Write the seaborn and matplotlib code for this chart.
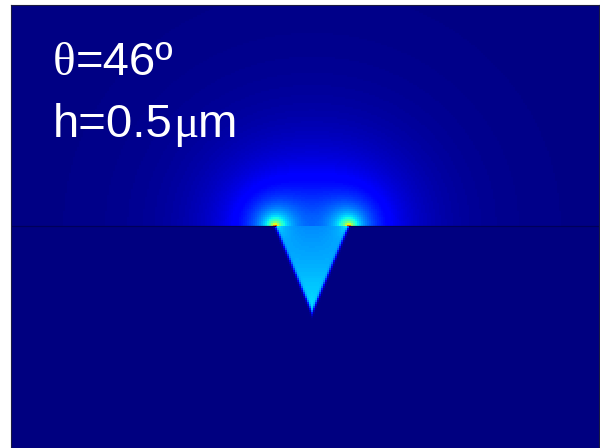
import numpy as np
import pandas as pd
import matplotlib
matplotlib.use("Agg")
import matplotlib.pyplot as plt
from matplotlib.transforms import IdentityTransform
import seaborn as sns

# Groove geometry and simulation window (micrometres)
theta_deg = 46.0          # full opening angle of the V-groove
depth_um = 0.5            # groove depth h
x_range_um = [-1.730, 1.649]
y_range_um = [-1.276, 1.270]
grid_shape = [222, 294]   # rows, columns

# Normalised |E| model parameters
background_air = 0.004
broad_amp, broad_len_um = 0.022, 0.6
lobe_amp, lobe_len_um = 0.20, 0.25
core_amp = [0.30, 0.45]
core_len_um = [0.07, 0.012]
groove_top_val = 0.25
groove_bottom_val = 0.35

ny, nx = grid_shape
xs = np.linspace(x_range_um[0], x_range_um[1], nx)
ys = np.linspace(y_range_um[1], y_range_um[0], ny)
X, Y = np.meshgrid(xs, ys)

half = np.deg2rad(theta_deg / 2)
w = depth_um * np.tan(half)

# faint wide halo above the opening
r = np.hypot(X, Y)
broad = broad_amp * np.exp(-r / broad_len_um)

# lobes and sharp enhancement at the two rim corners
lobes = np.zeros_like(X)
core = np.zeros_like(X)
for cx in (-w, w):
    d = np.hypot(X - cx, Y)
    lobes += lobe_amp * np.exp(-d / lobe_len_um)
    core += core_amp[0] * np.exp(-d / core_len_um[0]) + core_amp[1] * np.exp(-d / core_len_um[1])

air = background_air + broad + lobes + core

# inside the groove: smooth mask across the slanted walls
frac = np.clip(-Y / depth_um, 0, 1)
groove_val = groove_top_val + (groove_bottom_val - groove_top_val) * frac + 0.35 * core
d_side = ((Y + depth_um) * np.tan(half) - np.abs(X)) * np.cos(half)
mask = 1 / (1 + np.exp(-d_side / 0.004))
below = mask * groove_val

field = np.where(Y > 0, air, below)
df = pd.DataFrame(field, index=np.round(ys, 4), columns=np.round(xs, 4))

fig = plt.figure(figsize=(6.0, 4.48), dpi=100)
ax = fig.add_axes([11 / 600, 0, 588 / 600, 443 / 448])
sns.heatmap(df, ax=ax, cmap="jet", vmin=0, vmax=1, cbar=False,
            xticklabels=False, yticklabels=False, rasterized=True)
ax.set_xlabel("")
ax.set_ylabel("")
for s in ax.spines.values():
    s.set_visible(True)
    s.set_color("#1a1a40")
    s.set_linewidth(0.8)

# substrate surface, interrupted by the groove opening
col = lambda xv: np.interp(xv, xs, np.arange(nx)) + 0.5
row0 = np.interp(0.0, ys[::-1], np.arange(ny)[::-1]) + 0.5
ax.plot([0, col(-w)], [row0, row0], color="#00005a", lw=0.9)
ax.plot([col(w), nx], [row0, row0], color="#00005a", lw=0.9)


def text_runs(x, y, runs, size):
    """Draw consecutive text pieces, each in its own font family."""
    renderer = fig.canvas.get_renderer()
    for s, fam in runs:
        t = fig.text(x, y, s, color="white", fontsize=size, family=fam,
                     va="baseline", transform=IdentityTransform())
        x += t.get_window_extent(renderer).width


serif = ["Liberation Serif", "DejaVu Serif"]
sans = ["Liberation Sans", "DejaVu Sans"]
text_runs(53, 448 - 75, [("θ", serif), ("=46º", sans)], 34)
text_runs(53, 448 - 137, [("h=0.5", sans), ("μ", serif), ("m", sans)], 34)

fig.savefig("out.png", dpi=100)
